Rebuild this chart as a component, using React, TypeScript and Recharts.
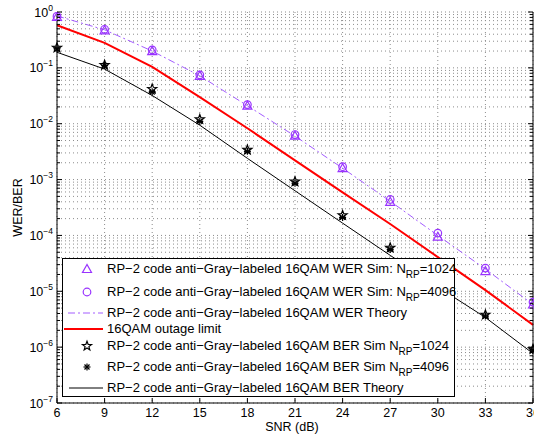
import React from "react";
import { LineChart, Line, XAxis, YAxis, CartesianGrid } from "recharts";

// SNR points (dB)
const snr = [6, 9, 12, 15, 18, 21, 24, 27, 30, 33, 36];

// WER, simulated, triangles (N_RP = 1024) and circles (N_RP = 4096)
const werSim1024 = [0.82, 0.47, 0.2, 0.072, 0.021, 0.0061, 1.6e-3, 4.0e-4, 9.5e-5, 2.3e-5, 5.8e-6];
const werSim4096 = [0.84, 0.49, 0.21, 0.075, 0.022, 0.0064, 1.7e-3, 4.4e-4, 1.1e-4, 2.6e-5, 6.4e-6];
const werTheory = [0.85, 0.48, 0.2, 0.072, 0.021, 0.006, 1.6e-3, 4.1e-4, 1.0e-4, 2.5e-5, 5.8e-6];

// outage limit
const outage = [0.58, 0.28, 0.104, 0.03, 8.3e-3, 2.2e-3, 5.9e-4, 1.6e-4, 4.1e-5, 1.05e-5, 2.5e-6];

// BER, simulated, stars (N_RP = 1024) and asterisks (N_RP = 4096)
const berSim1024 = [0.23, 0.112, 0.042, 0.012, 3.4e-3, 9.2e-4, 2.3e-4, 6.0e-5, 1.5e-5, 3.8e-6, 9.2e-7];
const berSim4096 = [0.22, 0.11, 0.037, 0.011, 3.2e-3, 8.6e-4, 2.1e-4, 5.6e-5, 1.4e-5, 3.6e-6, 8.8e-7];
const berTheory = [0.19, 0.095, 0.032, 0.0094, 2.4e-3, 6.3e-4, 1.66e-4, 4.4e-5, 1.2e-5, 3.4e-6, 7.7e-7];

const xTicks = [6, 9, 12, 15, 18, 21, 24, 27, 30, 33, 36];
const decadeTicks = [1e-7, 1e-6, 1e-5, 1e-4, 1e-3, 1e-2, 1e-1, 1];

const legendItems = [
    { icon: "tri", text: "RP−2 code anti−Gray−labeled 16QAM WER Sim: N", sub: "RP", tail: "=1024" },
    { icon: "circ", text: "RP−2 code anti−Gray−labeled 16QAM WER Sim: N", sub: "RP", tail: "=4096" },
    { icon: "dashdot", text: "RP−2 code anti−Gray−labeled 16QAM WER Theory" },
    { icon: "red", text: "16QAM outage limit" },
    { icon: "star", text: "RP−2 code anti−Gray−labeled 16QAM BER Sim N", sub: "RP", tail: "=1024" },
    { icon: "ast", text: "RP−2 code anti−Gray−labeled 16QAM BER Sim N", sub: "RP", tail: "=4096" },
    { icon: "line", text: "RP−2 code anti−Gray−labeled 16QAM BER Theory" }
];
const legendRowCenters = [11, 34, 55, 71, 88, 109, 130];

const minorTicks: number[] = [];
for (let k = -7; k < 0; k++) {
    for (let m = 2; m <= 9; m++) minorTicks.push(m * Math.pow(10, k));
}
const yTicks = [...decadeTicks, ...minorTicks].sort((a, b) => a - b);

const data = snr.map((s, i) => ({
    snr: s,
    werSim1024: werSim1024[i],
    werSim4096: werSim4096[i],
    werTheory: werTheory[i],
    outage: outage[i],
    berSim1024: berSim1024[i],
    berSim4096: berSim4096[i],
    berTheory: berTheory[i]
}));

const FONT = "'Liberation Sans', Arial, Helvetica, sans-serif";
const PURPLE = "#9933ff";
const PURPLE_LINE = "#a35cff";

// marker shapes
const triangle = (cx: number, cy: number, key?: any) => (
    <polygon
        key={key}
        points={`${cx},${cy - 4.5} ${cx - 4.5},${cy + 3.5} ${cx + 4.5},${cy + 3.5}`}
        fill="none"
        stroke={PURPLE}
        strokeWidth={1.2}
    />
);
const circle = (cx: number, cy: number, key?: any) => (
    <circle key={key} cx={cx} cy={cy} r={3.8} fill="none" stroke={PURPLE} strokeWidth={1.2} />
);
const star = (cx: number, cy: number, key?: any) => {
    const pts: string[] = [];
    for (let i = 0; i < 10; i++) {
        const r = i % 2 === 0 ? 4.8 : 2;
        const a = -Math.PI / 2 + (i * Math.PI) / 5;
        pts.push(`${cx + r * Math.cos(a)},${cy + r * Math.sin(a)}`);
    }
    return <polygon key={key} points={pts.join(" ")} fill="none" stroke="#000" strokeWidth={1.2} />;
};
const asterisk = (cx: number, cy: number, key?: any) => {
    const s = 3.5;
    const d = 2.5;
    return (
        <g key={key} stroke="#000" strokeWidth={1.2}>
            <line x1={cx} y1={cy - s} x2={cx} y2={cy + s} />
            <line x1={cx - s} y1={cy} x2={cx + s} y2={cy} />
            <line x1={cx - d} y1={cy - d} x2={cx + d} y2={cy + d} />
            <line x1={cx - d} y1={cy + d} x2={cx + d} y2={cy - d} />
        </g>
    );
};

const dotFn = (shape: (cx: number, cy: number, key?: any) => React.ReactElement) => (p: any) =>
    shape(p.cx, p.cy, `d-${p.index}`);

const isDecade = (v: number) => {
    const l = Math.log10(v);
    return Math.abs(l - Math.round(l)) < 1e-6;
};

const LeftTick = (props: any) => {
    const { x, y, payload } = props;
    const v = payload.value;
    const major = isDecade(v);
    const e = Math.round(Math.log10(v));
    return (
        <g>
            <line x1={x} x2={x + (major ? 5 : 3)} y1={y} y2={y} stroke="#000" />
            {major && (
                <text x={x - 4} y={y + 4.5} textAnchor="end" fontSize={12.5} fill="#000" fontFamily={FONT}>
                    <tspan>10</tspan>
                    <tspan fontSize={8.5} dy={-6}>
                        {e === 0 ? "0" : "−" + -e}
                    </tspan>
                </text>
            )}
        </g>
    );
};

const RightTick = (props: any) => {
    const { x, y, payload } = props;
    const major = isDecade(payload.value);
    return <line x1={x} x2={x - (major ? 5 : 3)} y1={y} y2={y} stroke="#000" />;
};

const BottomTick = (props: any) => {
    const { x, y, payload } = props;
    return (
        <g>
            <line x1={x} x2={x} y1={y} y2={y - 5} stroke="#000" />
            <text x={x} y={y + 14} textAnchor="middle" fontSize={12.5} fill="#000" fontFamily={FONT}>
                {payload.value}
            </text>
        </g>
    );
};

const TopTick = (props: any) => {
    const { x, y } = props;
    return <line x1={x} x2={x} y1={y} y2={y + 5} stroke="#000" />;
};

const LegendIcon = ({ icon }: { icon: string }) => {
    const cy = 10;
    switch (icon) {
        case "tri":
            return triangle(25, cy);
        case "circ":
            return circle(25, cy);
        case "star":
            return star(25, cy);
        case "ast":
            return asterisk(25, cy);
        case "dashdot":
            return <line x1={6} x2={41} y1={cy} y2={cy} stroke={PURPLE_LINE} strokeDasharray="7 3 2 3" />;
        case "red":
            return <line x1={2} x2={41} y1={cy} y2={cy} stroke="#ff0000" strokeWidth={2} />;
        default:
            return <line x1={7} x2={41} y1={cy} y2={cy} stroke="#000" />;
    }
};

const ChartLegend = () => (
    <div
        style={{
            position: "absolute",
            left: 62,
            top: 258,
            width: 393,
            height: 139,
            boxSizing: "border-box",
            border: "1px solid #000",
            background: "#fff",
            fontFamily: FONT,
            fontSize: 13,
            color: "#000"
        }}
    >
        {legendItems.map((item, i) => (
            <div
                key={i}
                style={{
                    position: "absolute",
                    left: 0,
                    top: legendRowCenters[i] - 11,
                    height: 20,
                    width: 390,
                    lineHeight: "20px",
                    whiteSpace: "nowrap"
                }}
            >
                <svg width={45} height={20} style={{ position: "absolute", left: -1, top: 0 }}>
                    <LegendIcon icon={item.icon} />
                </svg>
                <span style={{ position: "absolute", left: 44, top: 0 }}>
                    {item.text}
                    {item.sub && (
                        <span style={{ fontSize: 10, position: "relative", top: 5 }}>{item.sub}</span>
                    )}
                    {item.tail}
                </span>
            </div>
        ))}
    </div>
);

export default function App() {
    return (
        <div style={{ position: "absolute", left: 0, top: 0, width: 534, height: 436, background: "#fff" }}>
            <LineChart
                width={534}
                height={436}
                data={data}
                margin={{ top: 12, right: 0, left: 0, bottom: 0 }}
            >
                <CartesianGrid stroke="#8c8c8c" strokeDasharray="1 3" />
                <XAxis
                    dataKey="snr"
                    type="number"
                    domain={[6, 36]}
                    ticks={xTicks}
                    height={33}
                    tickSize={0}
                    tickMargin={0}
                    tick={<BottomTick />}
                    tickLine={false}
                    axisLine={{ stroke: "#000" }}
                    interval={0}
                    label={(p: any) => {
                        const vb = p.viewBox;
                        return (
                            <text
                                x={vb.x + vb.width / 2 - 3}
                                y={vb.y + 27.5}
                                textAnchor="middle"
                                fontSize={12.5}
                                fill="#000"
                                fontFamily={FONT}
                            >
                                SNR (dB)
                            </text>
                        );
                    }}
                />
                <XAxis
                    xAxisId="top"
                    orientation="top"
                    dataKey="snr"
                    type="number"
                    domain={[6, 36]}
                    ticks={xTicks}
                    height={0}
                    tickSize={0}
                    tickMargin={0}
                    tick={<TopTick />}
                    tickLine={false}
                    axisLine={{ stroke: "#000" }}
                    interval={0}
                />
                <YAxis
                    type="number"
                    scale="log"
                    domain={[1e-7, 1]}
                    ticks={yTicks}
                    allowDataOverflow
                    width={57}
                    tickSize={0}
                    tickMargin={0}
                    tick={<LeftTick />}
                    tickLine={false}
                    axisLine={{ stroke: "#000" }}
                    interval={0}
                    label={(p: any) => {
                        const vb = p.viewBox;
                        const cx = vb.x + 22;
                        const cy = vb.y + vb.height / 2;
                        return (
                            <text
                                x={cx}
                                y={cy}
                                transform={`rotate(-90, ${cx}, ${cy})`}
                                textAnchor="middle"
                                fontSize={12.5}
                                fill="#000"
                                fontFamily={FONT}
                            >
                                WER/BER
                            </text>
                        );
                    }}
                />
                <YAxis
                    yAxisId="right"
                    orientation="right"
                    type="number"
                    scale="log"
                    domain={[1e-7, 1]}
                    ticks={yTicks}
                    allowDataOverflow
                    width={1}
                    tickSize={0}
                    tickMargin={0}
                    tick={<RightTick />}
                    tickLine={false}
                    axisLine={{ stroke: "#000" }}
                    interval={0}
                />
                <Line
                    dataKey="werTheory"
                    stroke={PURPLE_LINE}
                    strokeWidth={1}
                    strokeDasharray="7 3 2 3"
                    dot={false}
                    activeDot={false}
                    isAnimationActive={false}
                />
                <Line
                    dataKey="outage"
                    stroke="#ff0000"
                    strokeWidth={2}
                    dot={false}
                    activeDot={false}
                    isAnimationActive={false}
                />
                <Line
                    dataKey="berTheory"
                    stroke="#000"
                    strokeWidth={1}
                    dot={false}
                    activeDot={false}
                    isAnimationActive={false}
                />
                <Line
                    dataKey="werSim1024"
                    stroke="none"
                    dot={dotFn(triangle)}
                    activeDot={false}
                    isAnimationActive={false}
                />
                <Line
                    dataKey="werSim4096"
                    stroke="none"
                    dot={dotFn(circle)}
                    activeDot={false}
                    isAnimationActive={false}
                />
                <Line
                    dataKey="berSim1024"
                    stroke="none"
                    dot={dotFn(star)}
                    activeDot={false}
                    isAnimationActive={false}
                />
                <Line
                    dataKey="berSim4096"
                    stroke="none"
                    dot={dotFn(asterisk)}
                    activeDot={false}
                    isAnimationActive={false}
                />
            </LineChart>
            <ChartLegend />
        </div>
    );
}
